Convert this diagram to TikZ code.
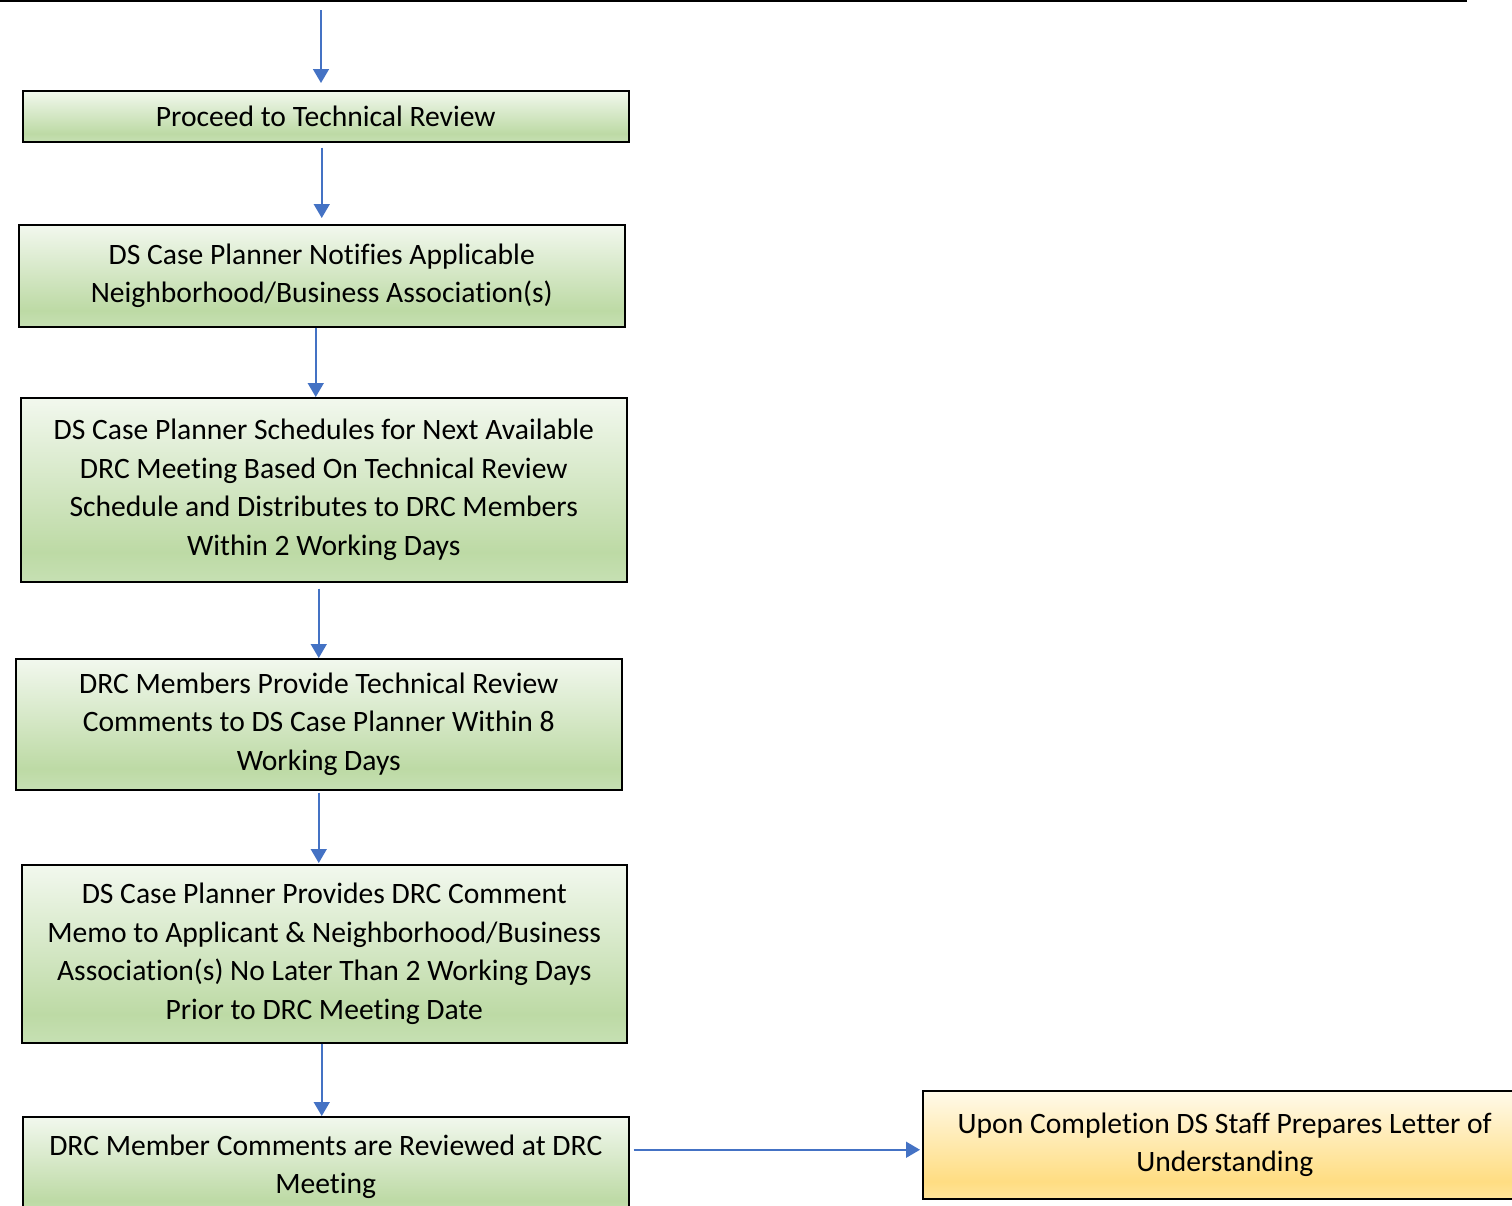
\documentclass[tikz,border=0pt]{standalone}
\usepackage{fontspec}
\setmainfont[Ligatures=NoCommon]{Carlito}
\usetikzlibrary{arrows.meta}

\definecolor{linkblue}{HTML}{4472C4}
\definecolor{gtop}{HTML}{F2F8EE}
\definecolor{gdark}{HTML}{BDDAA5}
\definecolor{gbot}{HTML}{C6E0B3}
\definecolor{ytop}{HTML}{FFFAEA}
\definecolor{ydark}{HTML}{FFDD82}
\definecolor{ybot}{HTML}{FFE49A}

% vertical fills, darker towards the lower edge
\pgfdeclareverticalshading{greenfill}{100bp}{color(0bp)=(gbot); color(25bp)=(gbot); color(33bp)=(gdark); color(75bp)=(gtop); color(100bp)=(gtop)}
\pgfdeclareverticalshading{yellowfill}{100bp}{color(0bp)=(ybot); color(25bp)=(ybot); color(33bp)=(ydark); color(75bp)=(ytop); color(100bp)=(ytop)}

\tikzset{
  stepbox/.style={draw=black, line width=0.75pt, shading=greenfill, align=center,
                  inner sep=0pt, anchor=north west, minimum width=303pt},
  endbox/.style={stepbox, shading=yellowfill},
  flow/.style={draw=linkblue, line width=0.8pt, -{Triangle[width=8pt,length=7pt]}}
}

\begin{document}
\begin{tikzpicture}[x=0.5pt, y=-0.5pt, font=\fontsize{14.8pt}{19.35pt}\selectfont]
\useasboundingbox (0,0) rectangle (1512,1206);
\clip (0,0) rectangle (1512,1206);

% lower edge of the preceding step
\draw[line width=1pt] (-20,-40) rectangle (1466,1);
\coordinate (prev) at (321,10);

\node[stepbox, minimum height=25.5pt] (b1) at (22,90) {Proceed to Technical Review};
\node[stepbox, minimum height=51pt] (b2) at (18,224)
  {DS Case Planner Notifies Applicable\\Neighborhood/Business Association(s)};
\node[stepbox, minimum height=92pt] (b3) at (20,397)
  {DS Case Planner Schedules for Next Available\\DRC Meeting Based On Technical Review\\Schedule and Distributes to DRC Members\\Within 2 Working Days};
\node[stepbox, minimum height=65.5pt] (b4) at (15,658)
  {DRC Members Provide Technical Review\\Comments to DS Case Planner Within 8\\Working Days};
\node[stepbox, minimum width=302.5pt, minimum height=89pt] (b5) at (21,864)
  {DS Case Planner Provides DRC Comment\\Memo to Applicant \& Neighborhood/Business\\Association(s) No Later Than 2 Working Days\\Prior to DRC Meeting Date};
\node[stepbox, minimum height=50pt] (b6) at (22,1116)
  {DRC Member Comments are Reviewed at DRC\\Meeting};
\node[endbox, minimum width=302pt, minimum height=54pt] (b7) at (922,1090)
  {Upon Completion DS Staff Prepares Letter of\\Understanding};

\draw[flow, shorten >=3.5pt] (prev) -- (prev |- b1.north);
\draw[flow, shorten <=2.5pt, shorten >=3pt] (b1.south -| b2.north) -- (b2.north);
\draw[flow] ([xshift=-3pt]b2.south) -- ([xshift=-3pt]b2.south |- b3.north);
\draw[flow, shorten <=3pt] (b3.south -| b4.north) -- (b4.north);
\draw[flow, shorten <=1pt, shorten >=0.5pt] (b4.south) -- (b4.south |- b5.north);
\draw[flow] ([xshift=-1.25pt]b5.south) -- ([xshift=-1.25pt]b5.south |- b6.north);
\draw[flow, shorten <=2pt, shorten >=1pt] ([yshift=-2.5pt]b7.west -| b6.east) -- ([yshift=-2.5pt]b7.west);
\end{tikzpicture}
\end{document}
